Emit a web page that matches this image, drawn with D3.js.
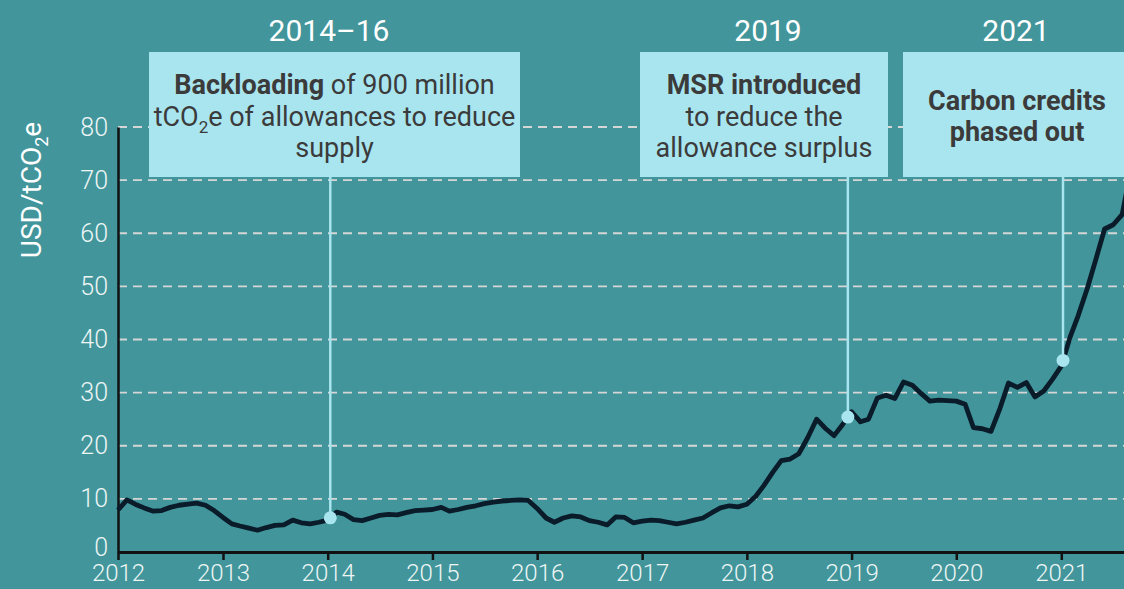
<!DOCTYPE html>
<html>
<head>
<meta charset="utf-8">
<script src="https://cdn.jsdelivr.net/npm/d3@7"></script>
<style>
  html, body { margin: 0; padding: 0; background: #41959b; overflow: hidden; }
  svg { display: block; font-family: Roboto, "Noto Sans", sans-serif; }
</style>
</head>
<body>
<div id="chart"></div>
<script>
// axis ticks
const yTicks = [0, 10, 20, 30, 40, 50, 60, 70, 80];
const xTickYears = [2012, 2013, 2014, 2015, 2016, 2017, 2018, 2019, 2020, 2021];

// monthly price, USD/tCO2e, from Jan 2012
const priceStart = "2012-01-01";
const prices = [
  7.9, 9.8, 9.0, 8.3, 7.7, 7.8, 8.4, 8.8, 9.0, 9.2, 8.8, 7.8,      // 2012
  6.5, 5.3, 4.9, 4.5, 4.1, 4.6, 5.0, 5.1, 6.0, 5.5, 5.3, 5.6,      // 2013
  6.0, 7.5, 7.1, 6.1, 5.9, 6.4, 6.9, 7.1, 7.0, 7.4, 7.8, 7.9,      // 2014
  8.0, 8.4, 7.7, 8.0, 8.4, 8.7, 9.1, 9.4, 9.6, 9.7, 9.8, 9.7,      // 2015
  8.2, 6.4, 5.6, 6.4, 6.8, 6.6, 5.9, 5.6, 5.1, 6.6, 6.5, 5.5,      // 2016
  5.8, 6.0, 5.9, 5.6, 5.3, 5.6, 6.0, 6.4, 7.4, 8.3, 8.7, 8.5,      // 2017
  9.0, 10.5, 12.5, 15.0, 17.2, 17.5, 18.5, 21.5, 25.0, 23.3, 21.9, 24.0, // 2018
  26.4, 24.5, 25.0, 29.0, 29.5, 28.9, 32.0, 31.4, 29.8, 28.4, 28.6, 28.5, // 2019
  28.4, 27.8, 23.4, 23.2, 22.7, 27.0, 31.8, 31.0, 31.9, 29.2, 30.3, 32.5, // 2020
  35.0, 40.5, 44.5, 49.5, 55.0, 60.8, 61.6, 63.5, 72.0                   // 2021
];

// policy events
const eventTitles = ["2014\u201316", "2019", "2021"];
const eventDates = ["2014-01-10", "2018-12-19", "2021-01-07"];
const eventTexts = [
  ["**Backloading** of 900 million", "tCO_2e of allowances to reduce", "supply"],
  ["**MSR introduced**", "to reduce the", "allowance surplus"],
  ["**Carbon credits**", "**phased out**"]
];

const W = 1124, H = 589;
const margin = { left: 118, top: 127, bottom: 37 };
const boxLayout = [
  { x: 149, w: 371, tx: 329 },
  { x: 640, w: 248, tx: 768 },
  { x: 903, w: 228, tx: 1016 }
];
const boxTop = 52, boxBottom = 177;
const bg = "#41959b", boxFill = "#a9e5ef", ink = "#3b3b3b";

const svg = d3.select("#chart").append("svg")
  .attr("width", W).attr("height", H);

svg.append("rect").attr("width", W).attr("height", H).attr("fill", bg);

const parse = d3.timeParse("%Y-%m-%d");
const t0 = parse(priceStart);
const data = prices.map((v, i) => ({ date: d3.timeMonth.offset(t0, i), value: v }));

const x = d3.scaleTime()
  .domain([new Date(2012, 0, 1), new Date(2022, 0, 1)])
  .range([margin.left, margin.left + 10 * 104.8]);
const y = d3.scaleLinear()
  .domain([0, 80])
  .range([H - margin.bottom, margin.top]);

// grid
svg.append("g")
  .selectAll("line")
  .data(yTicks.filter(d => d > 0))
  .join("line")
  .attr("x1", margin.left).attr("x2", W)
  .attr("y1", d => y(d)).attr("y2", d => y(d))
  .attr("stroke", "#d6d6d6")
  .attr("stroke-width", 1.8)
  .attr("stroke-dasharray", "9,6");

// y axis
const yAxis = svg.append("g")
  .attr("transform", `translate(${margin.left},0)`)
  .call(d3.axisLeft(y).tickValues(yTicks).tickSize(0).tickPadding(10));
yAxis.select(".domain").attr("stroke", "#111").attr("stroke-width", 2.5);
yAxis.selectAll("text")
  .attr("fill", "#eef5f5")
  .attr("font-size", 25)
  .attr("font-weight", 300)
  .attr("font-family", "Roboto");
// lift the zero label a touch so it clears the year labels
yAxis.selectAll(".tick").filter(d => d === 0).select("text").attr("dy", "0.15em");

// x axis
const xAxis = svg.append("g")
  .attr("transform", `translate(0,${y(0)})`)
  .call(d3.axisBottom(x)
    .tickValues(xTickYears.map(yr => new Date(yr, 0, 1)))
    .tickFormat(d3.timeFormat("%Y"))
    .tickSize(8).tickPadding(4).tickSizeOuter(0));
xAxis.select(".domain").attr("stroke", "#111").attr("stroke-width", 3);
xAxis.selectAll(".tick line").attr("stroke", "#111").attr("stroke-width", 2.5);
xAxis.selectAll("text")
  .attr("fill", "#eef5f5")
  .attr("font-size", 24)
  .attr("font-weight", 300)
  .attr("font-family", "Roboto");

// y label
const yl = svg.append("text")
  .attr("transform", "translate(41,190) rotate(-90)")
  .attr("text-anchor", "middle")
  .attr("fill", "#ffffff")
  .attr("font-size", 28);
yl.append("tspan").text("USD/tCO");
yl.append("tspan").text("2").attr("font-size", 18).attr("baseline-shift", "-7");
yl.append("tspan").text("e");

// price line
svg.append("path")
  .datum(data)
  .attr("fill", "none")
  .attr("stroke", "#0a1b2a")
  .attr("stroke-width", 4.8)
  .attr("stroke-linejoin", "round")
  .attr("d", d3.line().x(d => x(d.date)).y(d => y(d.value)));

// value on the line at a given date
const bis = d3.bisector(d => d.date).left;
function valueAt(date) {
  const i = bis(data, date);
  const a = data[i - 1], b = data[i];
  const t = (date - a.date) / (b.date - a.date);
  return a.value + t * (b.value - a.value);
}

// rich text line: **bold**, _2 subscript
function writeLine(sel, str) {
  const parts = str.split(/(\*\*[^*]+\*\*|_2)/).filter(s => s.length);
  parts.forEach(p => {
    if (p.startsWith("**")) {
      sel.append("tspan").attr("font-weight", 700).text(p.slice(2, -2));
    } else if (p === "_2") {
      sel.append("tspan").attr("font-size", 17).attr("baseline-shift", "-7").text("2");
    } else {
      sel.append("tspan").text(p);
    }
  });
}

const ev = svg.append("g");
eventDates.forEach((ds, i) => {
  const d = parse(ds);
  const b = boxLayout[i];
  const cx = b.x + b.w / 2;
  const px = x(d), py = y(valueAt(d));

  ev.append("line")
    .attr("x1", px).attr("x2", px)
    .attr("y1", boxBottom).attr("y2", py)
    .attr("stroke", boxFill).attr("stroke-width", 2.5);
  ev.append("circle")
    .attr("cx", px).attr("cy", py).attr("r", 6.5)
    .attr("fill", boxFill);

  ev.append("rect")
    .attr("x", b.x).attr("y", boxTop)
    .attr("width", b.w).attr("height", boxBottom - boxTop)
    .attr("fill", boxFill);

  ev.append("text")
    .attr("x", b.tx).attr("y", 41)
    .attr("text-anchor", "middle")
    .attr("fill", "#ffffff")
    .attr("font-size", 30)
    .text(eventTitles[i]);

  const lines = eventTexts[i];
  const lh = 31.5;
  const first = (boxTop + boxBottom) / 2 + 11 - (lines.length - 1) / 2 * lh;
  lines.forEach((ln, j) => {
    const t = ev.append("text")
      .attr("x", cx).attr("y", first + j * lh)
      .attr("text-anchor", "middle")
      .attr("fill", ink)
      .attr("font-size", 27);
    writeLine(t, ln);
  });
});
</script>
</body>
</html>
